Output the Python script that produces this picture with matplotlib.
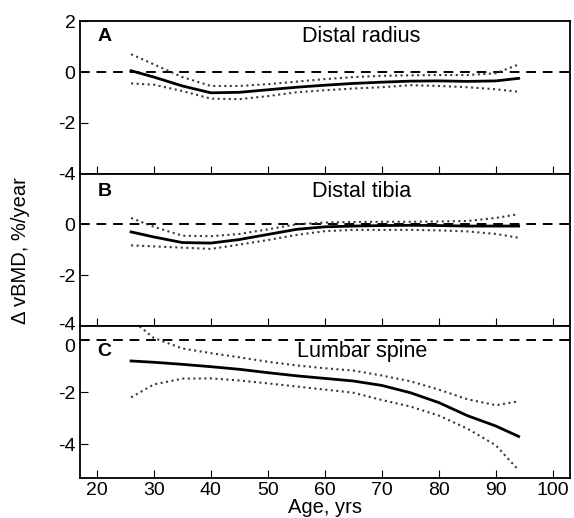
import matplotlib
matplotlib.use("Agg")
import matplotlib.pyplot as plt
from matplotlib.transforms import ScaledTranslation

plt.rcParams['font.family'] = ['Liberation Sans', 'DejaVu Sans']
plt.rcParams['axes.unicode_minus'] = False

age = [26, 30, 35, 40, 45, 50, 55, 60, 65, 70, 75, 80, 85, 90, 94]

radius_fit = [0.05, -0.2, -0.55, -0.82, -0.8, -0.7, -0.6, -0.52, -0.45, -0.4, -0.36, -0.35, -0.37, -0.35, -0.25]
radius_hi = [0.7, 0.3, -0.2, -0.55, -0.55, -0.48, -0.38, -0.28, -0.2, -0.15, -0.13, -0.12, -0.12, -0.05, 0.3]
radius_lo = [-0.45, -0.5, -0.75, -1.05, -1.07, -0.95, -0.8, -0.72, -0.65, -0.6, -0.52, -0.55, -0.6, -0.68, -0.78]

tibia_fit = [-0.3, -0.5, -0.72, -0.74, -0.6, -0.4, -0.2, -0.1, -0.07, -0.05, -0.04, -0.05, -0.07, -0.07, -0.07]
tibia_hi = [0.25, -0.1, -0.45, -0.47, -0.38, -0.2, 0.0, 0.07, 0.09, 0.1, 0.1, 0.11, 0.13, 0.25, 0.4]
tibia_lo = [-0.83, -0.87, -0.92, -0.97, -0.8, -0.62, -0.42, -0.27, -0.22, -0.22, -0.22, -0.24, -0.28, -0.38, -0.53]

spine_fit = [-0.8, -0.85, -0.93, -1.02, -1.12, -1.25, -1.37, -1.47, -1.57, -1.74, -2.02, -2.4, -2.9, -3.3, -3.7]
spine_hi = [0.8, 0.08, -0.32, -0.5, -0.66, -0.83, -0.97, -1.08, -1.17, -1.36, -1.58, -1.9, -2.27, -2.5, -2.35]
spine_lo = [-2.2, -1.7, -1.48, -1.47, -1.55, -1.66, -1.78, -1.9, -2.02, -2.3, -2.55, -2.9, -3.4, -4.04, -5.0]

# tag, title, curves, y range, y ticks, height of the text row (axes fraction)
panels = [
    ('A', 'Distal radius', radius_fit, radius_hi, radius_lo, (-4, 2), [2, 0, -2, -4], 0.90),
    ('B', 'Distal tibia', tibia_fit, tibia_hi, tibia_lo, (-4, 2), [0, -2, -4], 0.88),
    ('C', 'Lumbar spine', spine_fit, spine_hi, spine_lo, (-5.3, 0.55), [0, -2, -4], 0.83),
]

fig = plt.figure(figsize=(5.74, 5.18), dpi=100)
left, right = 0.139, 0.993
top, bottom = 0.959, 0.077
h = (top - bottom) / 3

axes = []
for i, (tag, title, fit, hi, lo, ylim, yt, ty) in enumerate(panels):
    ax = fig.add_axes([left, top - (i + 1) * h, right - left, h])
    ax.axhline(0, color='black', linestyle=(0, (5, 3.5)), linewidth=1.4)
    ax.plot(age, hi, ':', color='#3a3a3a', linewidth=1.5)
    ax.plot(age, lo, ':', color='#3a3a3a', linewidth=1.5)
    ax.plot(age, fit, '-', color='black', linewidth=2.0)
    ax.set_xlim(17, 103)
    ax.set_ylim(*ylim)
    ax.set_yticks(yt)
    ax.set_xticks([20, 30, 40, 50, 60, 70, 80, 90, 100])
    ax.tick_params(direction='in', length=6, labelsize=14, pad=3)
    if i < 2:
        ax.tick_params(labelbottom=False)
    for s in ax.spines.values():
        s.set_linewidth(1.3)
    ax.text(0.05, ty, tag, transform=ax.transAxes, fontsize=14,
            fontweight='bold', ha='center', va='center')
    ax.text(0.575, ty, title, transform=ax.transAxes, fontsize=15.5,
            ha='center', va='center')
    if i == 2:
        ax.set_xlabel('Age, yrs', fontsize=14.5, labelpad=-1)
    axes.append(ax)

# keep the "-4" / "0" labels at the B/C seam apart
lab_b = axes[1].get_yticklabels()[-1]
lab_b.set_transform(lab_b.get_transform() + ScaledTranslation(0, 2 / 72, fig.dpi_scale_trans))
lab_c = axes[2].get_yticklabels()[0]
lab_c.set_transform(lab_c.get_transform() + ScaledTranslation(0, -4 / 72, fig.dpi_scale_trans))

fig.text(0.035, 0.517, '\u0394 vBMD, %/year', rotation=90, fontsize=14.5,
         ha='center', va='center')

fig.savefig('out.png', dpi=100)
